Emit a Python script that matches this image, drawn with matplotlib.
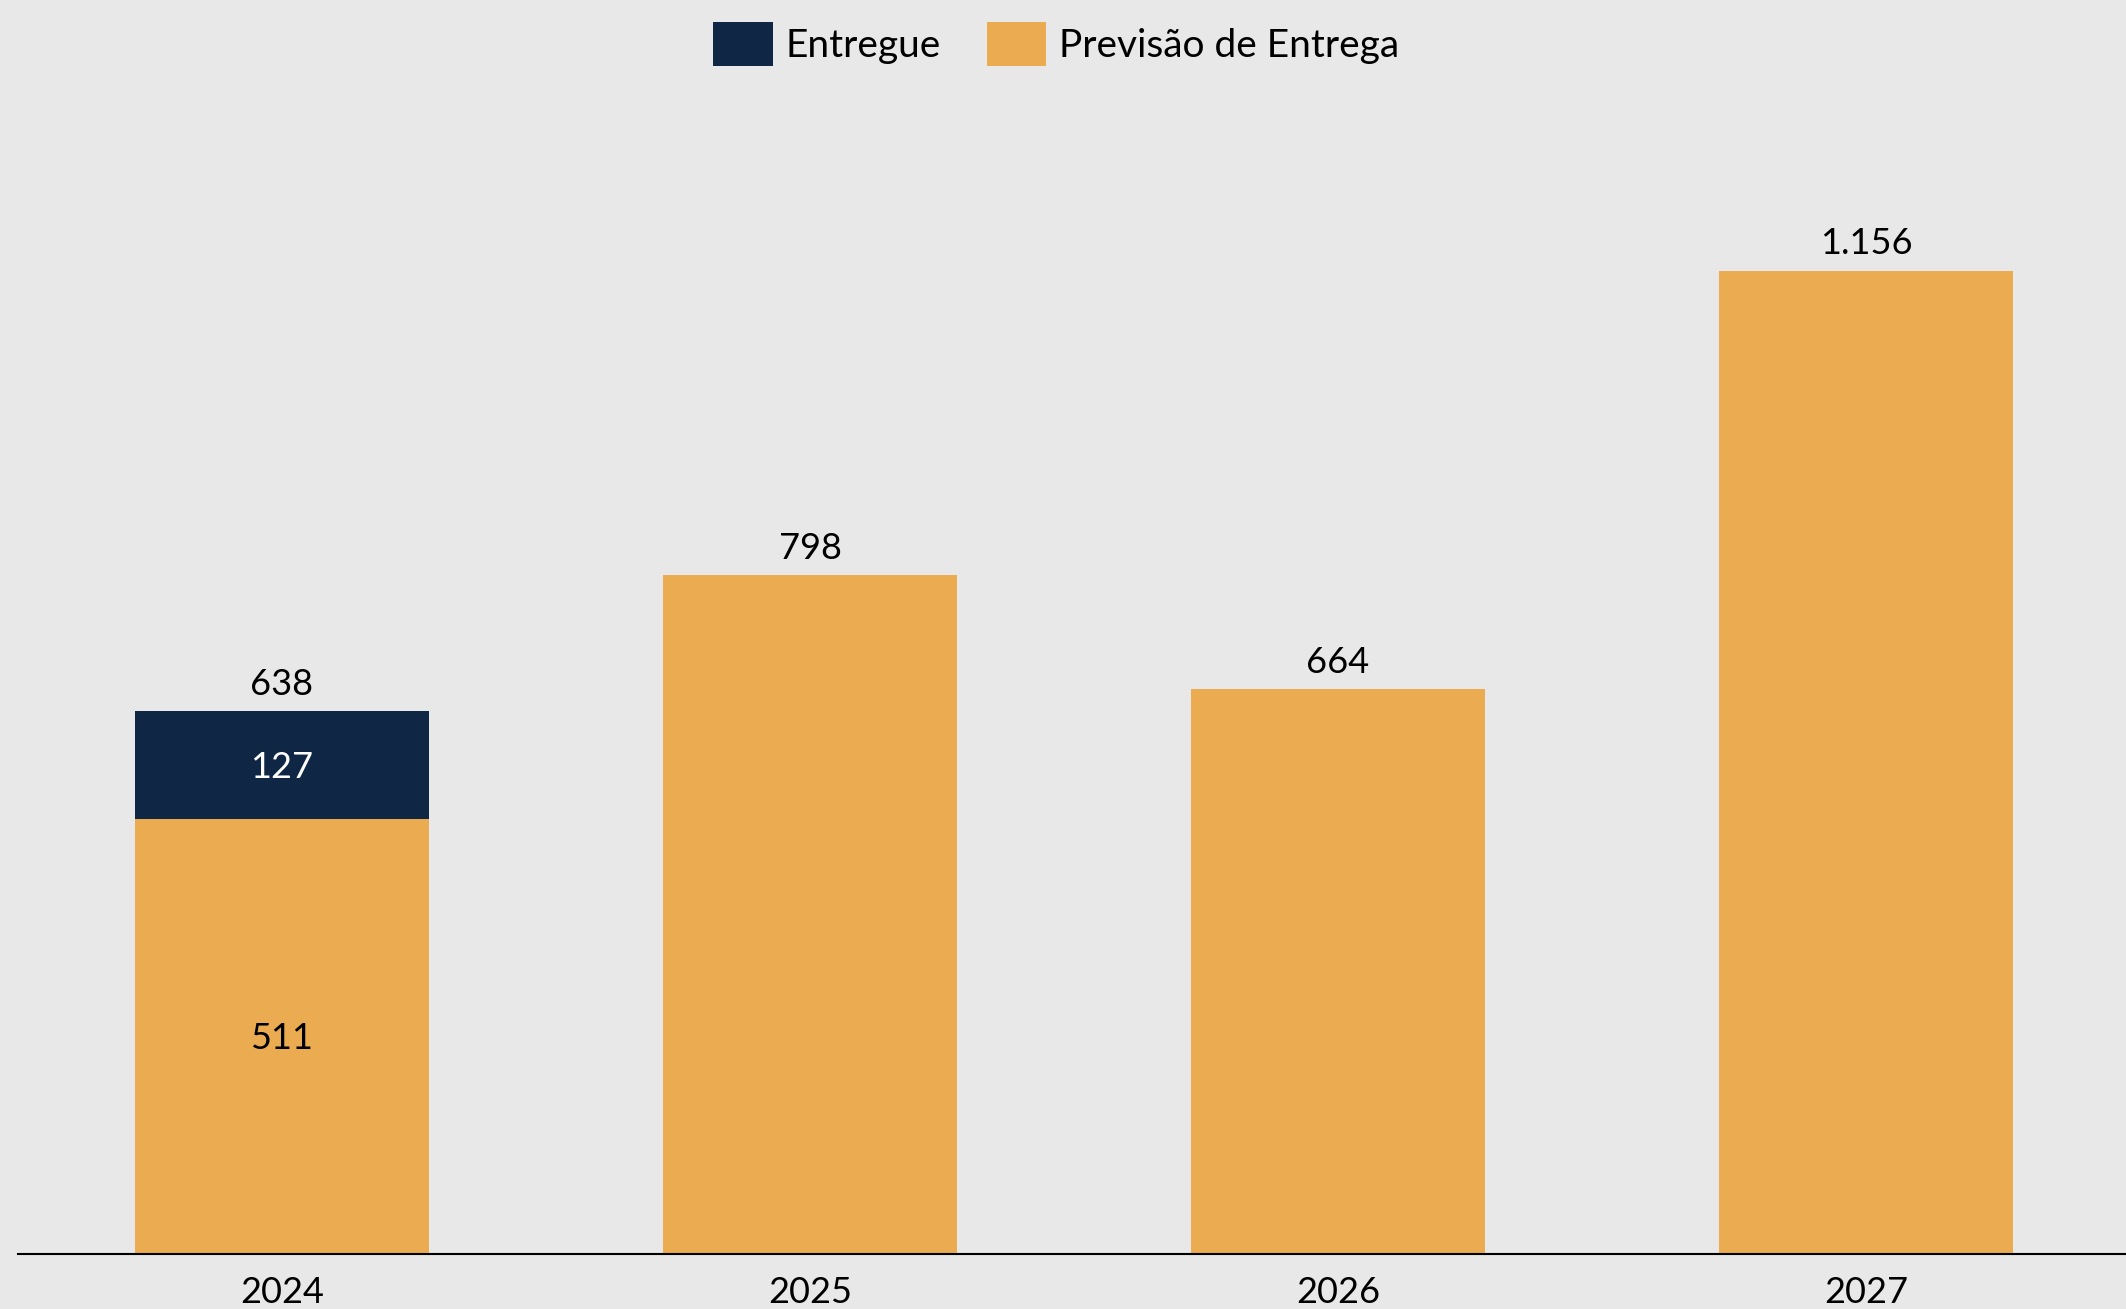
import matplotlib
matplotlib.use("Agg")
import matplotlib.pyplot as plt
import numpy as np

years = ["2024", "2025", "2026", "2027"]
previsao = [511, 798, 664, 1156]
entregue = [127, 0, 0, 0]

def fmt(v):
    return f"{v:,}".replace(",", ".")

plt.rcParams['font.family'] = ['Lato', 'DejaVu Sans']

BG = "#E8E8E8"
NAVY = "#0F2644"
ORANGE = "#EBAB51"

fig = plt.figure(figsize=(21.26, 13.09), dpi=100, facecolor=BG)
ax = fig.add_axes([18/2126, 0.0420, 2112/2126, 0.92 - 0.0420], facecolor=BG)

x = np.arange(len(years))
w = 0.557
prev = np.array(previsao)
ent = np.array(entregue)
tot = prev + ent

ax.bar(x, prev, width=w, color=ORANGE, label="Previsão de Entrega", zorder=2)
ax.bar(x, ent, width=w, bottom=prev, color=NAVY, label="Entregue", zorder=2)

ax.set_xlim(-0.5, 3.5)
ax.set_ylim(0, 1351)

fs = 26
for i in range(len(years)):
    ax.annotate(fmt(int(tot[i])), (x[i], tot[i]), xytext=(0, 19.5), textcoords="offset points",
                ha="center", va="center", fontsize=fs, color="black")
    if ent[i] > 0:
        ax.annotate(fmt(int(ent[i])), (x[i], prev[i] + ent[i] / 2), xytext=(0, -1.5),
                    textcoords="offset points", ha="center", va="center",
                    fontsize=fs, color="white", zorder=3)
        ax.annotate(fmt(int(prev[i])), (x[i], prev[i] / 2), xytext=(0, -1.5),
                    textcoords="offset points", ha="center", va="center",
                    fontsize=fs, color="black", zorder=3)

ax.set_xticks(x)
ax.set_xticklabels(years, fontsize=fs)
ax.tick_params(axis="x", length=0, pad=16)
ax.set_yticks([])
for s in ["top", "right", "left"]:
    ax.spines[s].set_visible(False)
ax.spines["bottom"].set_linewidth(1.5)
ax.spines["bottom"].set_color("black")

handles, labels = ax.get_legend_handles_labels()
order = [1, 0]
leg = fig.legend([handles[i] for i in order], [labels[i] for i in order],
                 loc="center", bbox_to_anchor=(1056/2126, 1 - 44/1309), ncol=2,
                 frameon=False, fontsize=28, handlelength=1.54, handleheight=1.37,
                 handletextpad=0.33, columnspacing=1.18, borderpad=0, borderaxespad=0)

fig.savefig("out.png", dpi=100, facecolor=BG)
